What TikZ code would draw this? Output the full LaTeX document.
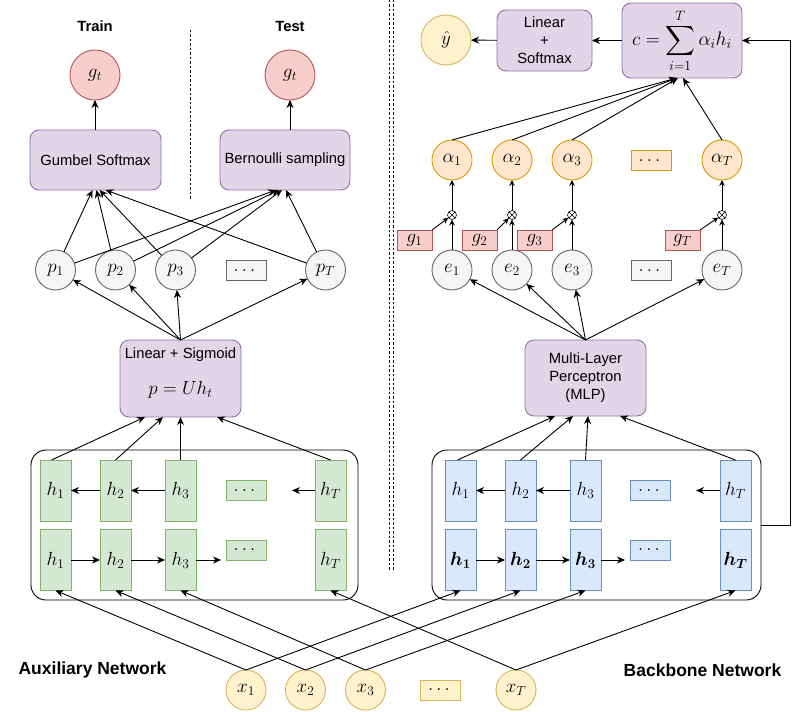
\RequirePackage{fix-cm}
\documentclass[tikz,border=0pt]{standalone}
\usepackage{amsmath,bm}
\usepackage{fontspec}
\setmainfont{Liberation Sans}
\usetikzlibrary{arrows.meta,calc}

\definecolor{purpF}{HTML}{E1D5E7}\definecolor{purpD}{HTML}{9673A6}
\definecolor{redF}{HTML}{F8CECC}\definecolor{redD}{HTML}{B85450}
\definecolor{yelF}{HTML}{FFF2CC}\definecolor{yelD}{HTML}{D6B656}
\definecolor{oraF}{HTML}{FFE6CC}\definecolor{oraD}{HTML}{D79B00}
\definecolor{grayF}{HTML}{F5F5F5}\definecolor{grayD}{HTML}{666666}
\definecolor{grnF}{HTML}{D5E8D4}\definecolor{grnD}{HTML}{82B366}
\definecolor{bluF}{HTML}{DAE8FC}\definecolor{bluD}{HTML}{6C8EBF}

\tikzset{
  x=1pt, y=-1pt,
  every node/.style={inner sep=0pt, outer sep=0pt},
  txt/.style={font=\fontsize{14.8}{18}\selectfont, align=center},
  mth/.style={font=\fontsize{19}{22}\selectfont},
  title/.style={font=\fontsize{14.8}{17}\selectfont\bfseries},
  netlabel/.style={font=\fontsize{17.5}{20}\selectfont\bfseries},
  opbox/.style={draw=purpD, fill=purpF, rounded corners=9pt, line width=0.9pt, txt},
  circ/.style={circle, minimum size=40pt, line width=0.9pt, mth},
  gcirc/.style={circ, draw=grayD, fill=grayF},
  ycirc/.style={circ, draw=yelD, fill=yelF},
  ocirc/.style={circ, draw=oraD, fill=oraF},
  rcirc/.style={circ, draw=redD, fill=redF, minimum size=50pt},
  dotbox/.style={minimum width=40pt, minimum height=20pt, line width=0.9pt, mth},
  hbox/.style={minimum width=31pt, minimum height=61pt, line width=0.9pt, mth},
  gh/.style={hbox, draw=grnD, fill=grnF},
  bh/.style={hbox, draw=bluD, fill=bluF},
  gtag/.style={draw=redD, fill=redF, minimum width=35pt, minimum height=20pt, line width=0.9pt, mth},
  otimes/.style={circle, draw, minimum size=9pt, line width=0.6pt,
    path picture={\draw[line width=0.6pt]
      (path picture bounding box.north west) -- (path picture bounding box.south east)
      (path picture bounding box.south west) -- (path picture bounding box.north east);}},
  container/.style={draw, rounded corners=15pt, line width=0.9pt, minimum height=150pt},
  arr/.style={-{Stealth[length=8pt,width=7pt,inset=2.5pt]}, line width=0.9pt},
  sarr/.style={-{Stealth[length=6pt,width=5.5pt,inset=2pt]}, line width=0.9pt},
  sep/.style={dashed, dash pattern=on 2.5pt off 2pt, line width=0.8pt},
}

\begin{document}
\begin{tikzpicture}
\useasboundingbox[fill=white] (0,0) rectangle (799,711);

% ---------- separators ----------
\coordinate (s1t) at (190,30);  \coordinate (s1b) at (190,200);
\coordinate (s2t) at (389,0);   \coordinate (s2b) at (389,571);
\coordinate (s3t) at (393,0);   \coordinate (s3b) at (393,571);
\draw[sep] (s1t) -- (s1b);
\draw[sep] (s2t) -- (s2b);
\draw[sep] (s3t) -- (s3b);

% ---------- auxiliary network ----------
\node[title] (train) at (95,26) {Train};
\node[title] (test) at (290,26) {Test};
\node[rcirc] (gL) at (95,75) {$g_t$};
\node[rcirc] (gR) at (290,75) {$g_t$};
\node[opbox, minimum width=131pt, minimum height=60pt] (gum) at (95.5,160) {Gumbel Softmax};
\node[opbox, minimum width=130pt, minimum height=60pt] (ber) at (285,160) {Bernoulli sampling};
\draw[arr] (gL.south |- gum.north) -- (gL);
\draw[arr] (gR.south |- ber.north) -- (gR);

\node[gcirc] (p1) at (55.5,270) {$p_1$};
\node[gcirc] (p2) at (115.5,270) {$p_2$};
\node[gcirc] (p3) at (175.5,270) {$p_3$};
\node[dotbox, draw=grayD, fill=grayF] (pd) at (246,270.5) {$\dots$};
\node[gcirc] (pT) at (325.5,270) {$p_T$};

\foreach \p/\a/\b in {p1/-3/-9, p2/1/-6, p3/4/-3, pT/10/1} {
  \draw[arr] (\p) -- ([xshift=\a pt]gum.south);
  \draw[arr] (\p) -- ([xshift=\b pt]ber.south);
}

\node[opbox, minimum width=121pt, minimum height=77pt] (ls) at (180.5,378.5) {};
\node[txt] (lsT) at (180.5,355) {Linear + Sigmoid};
\node[mth] (lsM) at (180.5,390) {$p = Uh_t$};
\foreach \p in {p1,p2,p3,pT} \draw[arr] (ls.north) -- (\p);

\node[container, minimum width=327pt] (lc) at (194.5,525) {};
\node[gh] (a1) at (55.5,490.5) {$h_1$};
\node[gh] (a2) at (115.5,490.5) {$h_2$};
\node[gh] (a3) at (180.5,490.5) {$h_3$};
\node[dotbox, draw=grnD, fill=grnF] (ad) at (246,490.5) {$\dots$};
\node[gh] (aT) at (330.5,490.5) {$h_T$};
\node[gh] (b1) at (55.5,560) {$h_1$};
\node[gh] (b2) at (115.5,560) {$h_2$};
\node[gh] (b3) at (180.5,560) {$h_3$};
\node[dotbox, draw=grnD, fill=grnF] (bd) at (246,550) {$\dots$};
\node[gh] (bT) at (330.5,560) {$h_T$};
\coordinate (aEnd) at (292,490.5);
\coordinate (bEnd) at (221,560);
\draw[arr] (a2) -- (a1);
\draw[arr] (a3) -- (a2);
\draw[arr] (aT) -- (aEnd);
\draw[arr] (b1) -- (b2);
\draw[arr] (b2) -- (b3);
\draw[arr] (b3) -- (bEnd);

\draw[arr] ([xshift=-4pt]a1.north) -- ([xshift=-35.5pt]ls.south);
\draw[arr] (a2.north) -- ([xshift=-17.5pt]ls.south);
\draw[arr] (a3.north) -- (ls.south);
\draw[arr] (aT.north) -- ([xshift=36.5pt]ls.south);

\node[netlabel] (auxlab) at (92.5,670) {Auxiliary Network};

% ---------- inputs ----------
\node[ycirc] (x1) at (246,690) {$x_1$};
\node[ycirc] (x2) at (305.5,690) {$x_2$};
\node[ycirc] (x3) at (365.5,690) {$x_3$};
\node[dotbox, draw=yelD, fill=yelF] (xd) at (440.5,690) {$\dots$};
\node[ycirc] (xT) at (516,690) {$x_T$};

% ---------- backbone network ----------
\node[container, minimum width=329pt] (rc) at (596.5,525) {};
\node[bh] (c1) at (460.5,490.5) {$h_1$};
\node[bh] (c2) at (520.5,490.5) {$h_2$};
\node[bh] (c3) at (585.5,490.5) {$h_3$};
\node[dotbox, draw=bluD, fill=bluF] (cd) at (650.5,490.5) {$\dots$};
\node[bh] (cT) at (735.5,490.5) {$h_T$};
\node[bh] (d1) at (460.5,560) {$\bm{h_1}$};
\node[bh] (d2) at (520.5,560) {$\bm{h_2}$};
\node[bh] (d3) at (585.5,560) {$\bm{h_3}$};
\node[dotbox, draw=bluD, fill=bluF] (dd) at (650.5,550) {$\dots$};
\node[bh] (dT) at (735.5,560) {$\bm{h_T}$};
\coordinate (cEnd) at (696,490.5);
\coordinate (dEnd) at (625,560);
\draw[arr] (c2) -- (c1);
\draw[arr] (c3) -- (c2);
\draw[arr] (cT) -- (cEnd);
\draw[arr] (d1) -- (d2);
\draw[arr] (d2) -- (d3);
\draw[arr] (d3) -- (dEnd);

% inputs feed both encoders
\foreach \x/\l/\r in {x1/b1/d1, x2/b2/d2, x3/b3/d3, xT/bT/dT} {
  \draw[arr] (\x.north) -- (\l.south);
  \draw[arr] (\x.north) -- (\r.south);
}

\node[opbox, minimum width=121pt, minimum height=76pt] (mlp) at (585.5,378) {Multi-Layer\\Perceptron\\(MLP)};
\draw[arr] ([xshift=-3pt]c1.north) -- ([xshift=-30.5pt]mlp.south);
\draw[arr] (c2.north) -- ([xshift=-12.5pt]mlp.south);
\draw[arr] (c3.north) -- ([xshift=2.5pt]mlp.south);
\draw[arr] (cT.north) -- ([xshift=34.5pt]mlp.south);

\node[gcirc] (e1) at (452,270) {$e_1$};
\node[gcirc] (e2) at (512,270) {$e_2$};
\node[gcirc] (e3) at (572,270) {$e_3$};
\node[dotbox, draw=grayD, fill=grayF] (ed) at (651,270.5) {$\dots$};
\node[gcirc] (eT) at (722,270) {$e_T$};
\foreach \e in {e1,e2,e3,eT} \draw[arr] (mlp.north) -- (\e);

\node[gtag] (g1) at (414.5,240) {$g_1$};
\node[gtag] (g2) at (479.5,240) {$g_2$};
\node[gtag] (g3) at (534.5,240) {$g_3$};
\node[gtag] (gT) at (682.5,240) {$g_T$};

\node[otimes] (m1) at (452,215) {};
\node[otimes] (m2) at (512,215) {};
\node[otimes] (m3) at (572,215) {};
\node[otimes] (mT) at (722,215) {};

\node[ocirc] (al1) at (452,160) {$\alpha_1$};
\node[ocirc] (al2) at (512,160) {$\alpha_2$};
\node[ocirc] (al3) at (572,160) {$\alpha_3$};
\node[dotbox, draw=oraD, fill=oraF] (ald) at (651,160.5) {$\dots$};
\node[ocirc] (alT) at (722,160) {$\alpha_T$};

\foreach \i in {1,2,3,T} {
  \draw[sarr] (e\i) -- (m\i);
  \draw[sarr] (g\i.north east) -- (m\i);
  \draw[sarr] (m\i) -- (al\i);
}

\node[opbox, minimum width=120pt, minimum height=75pt, font=\fontsize{19.5}{22}\selectfont] (cbox) at (682,40.5) {$\displaystyle c=\sum_{i=1}^{T}\alpha_i h_i$};
\node[opbox, minimum width=95pt, minimum height=61pt] (lsm) at (544.5,40.5) {Linear\\+\\Softmax};
\node[ycirc, minimum size=50pt] (yh) at (446,40) {$\hat{y}$};

\draw[arr] (al1.north) -- ([xshift=-5pt]cbox.south);
\draw[arr] (al2.north) -- ([xshift=-5pt]cbox.south);
\draw[arr] (al3.north) -- ([xshift=-4pt]cbox.south);
\draw[arr] (alT.north) -- ([xshift=1pt]cbox.south);
\draw[arr] (cbox) -- (lsm);
\draw[arr] (lsm) -- (yh);

\coordinate (loopR) at (790,40.5);
\draw[arr] (rc.east) -| (loopR) -- (cbox.east);

\node[netlabel] (bblab) at (702.5,670) {Backbone Network};
\end{tikzpicture}
\end{document}
